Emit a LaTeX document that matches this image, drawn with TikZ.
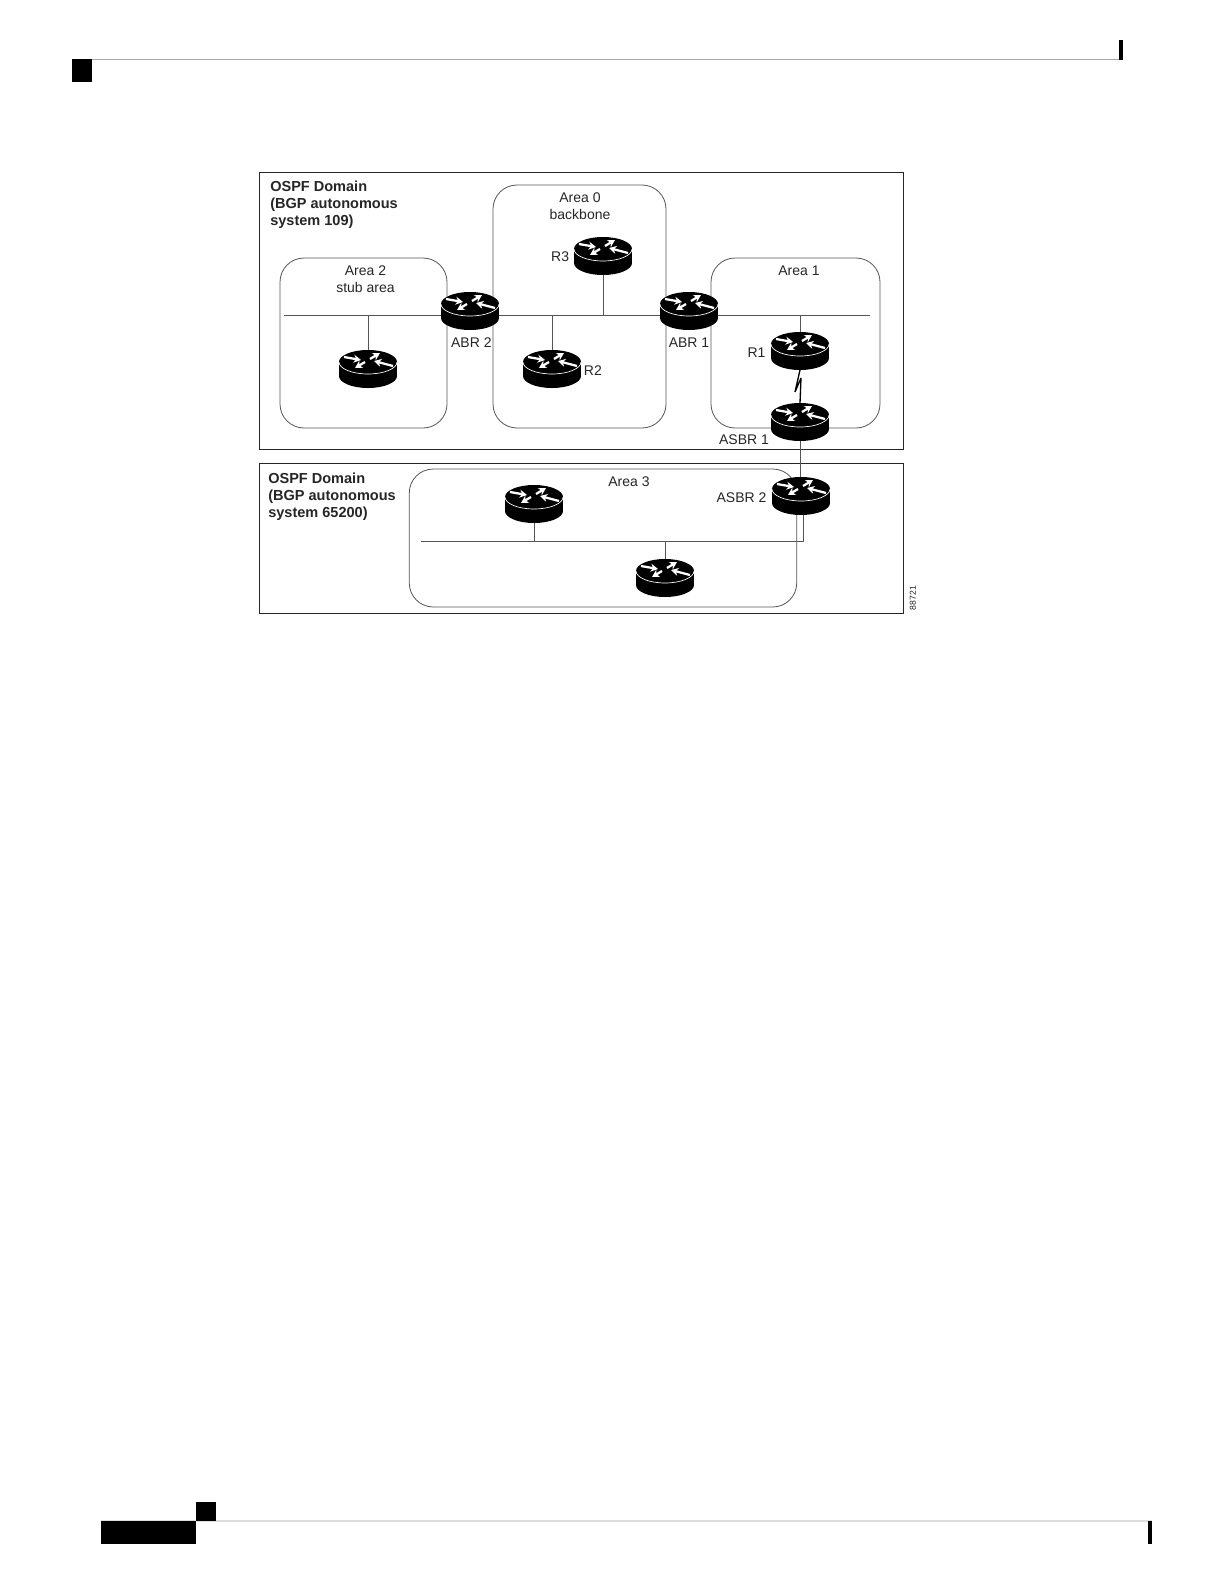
\documentclass[tikz,border=0pt]{standalone}
\usepackage{fontspec}
\setmainfont{Liberation Sans}
\usetikzlibrary{positioning,arrows.meta}
\definecolor{ruleGrey}{HTML}{A8A8A8}
\definecolor{footGrey}{HTML}{DDDDDD}
\definecolor{linkGrey}{HTML}{555555}
\newcommand{\routerbody}{%
  \begin{scope}[shift={(path picture bounding box.center)}]
    \fill[black] (0,-7) ellipse [x radius=29, y radius=12];
    \fill[black] (-29,-7) rectangle (29,7);
    \fill[black] (0,7) ellipse [x radius=29, y radius=12];
    \draw[white, line width=0.5pt] (-29,-7) arc [start angle=180, end angle=0, x radius=29, y radius=12];
    \draw[white, line width=1.7pt, -{Stealth[length=5.5pt,width=6pt]}] (-24,-12) -- (-7,-9);
    \draw[white, line width=1.7pt, -{Stealth[length=5.5pt,width=6pt]}] (25,-3) -- (6,-8);
    \draw[white, line width=1.7pt, -{Stealth[length=5.5pt,width=6pt]}] (2,-10) -- (12,-16);
    \draw[white, line width=1.7pt, -{Stealth[length=5.5pt,width=6pt]}] (-3,-7) -- (-13,-1);
  \end{scope}}
\begin{document}
\begin{tikzpicture}[
    x=0.75pt, y=-0.75pt,
    domainbox/.style={draw=black!85, line width=0.7pt, minimum width=482.6pt, inner sep=0pt},
    areabox/.style={draw=linkGrey, line width=0.6pt, rounded corners=18pt, inner sep=0pt},
    router/.style={minimum width=43.5pt, minimum height=28.5pt, inner sep=0pt, outer sep=0pt,
                   path picture={\routerbody}},
    lbl/.style={font=\fontsize{10.5}{12.75}\selectfont, inner sep=0pt, align=center, text=black!85},
    domainlbl/.style={font=\fontsize{10.9}{12.75}\selectfont\bfseries, inner sep=0pt, align=left,
                      anchor=north west, text=black!85},
    link/.style={draw=linkGrey, line width=0.6pt}
  ]
  \useasboundingbox (0,0) rectangle (1224,1584);
  % page furniture
  \draw[ruleGrey, line width=0.9pt] (92,59.5) -- (1123,59.5);
  \fill[black] (72,59) rectangle (92,82);
  \fill[black] (1119,40) rectangle (1123,60);
  \draw[footGrey, line width=0.9pt] (101,1521) -- (1152,1521);
  \fill[black] (101,1521) rectangle (196,1544);
  \fill[black] (196,1502) rectangle (216,1521);
  \fill[black] (1148,1521) rectangle (1152,1544);
  % domains and areas
  \node[domainbox, minimum height=207.9pt] (domain1) at (581.25,311) {};
  \node[domainbox, minimum height=112.5pt] (domain2) at (581.25,538) {};
  \node[areabox, minimum width=125.25pt, minimum height=127.5pt] (area2) at (363.5,343) {};
  \node[areabox, minimum width=129.75pt, minimum height=182.25pt] (area0) at (579.5,306.5) {};
  \node[areabox, minimum width=126.75pt, minimum height=127.5pt] (area1) at (795.5,343) {};
  \node[areabox, minimum width=290.6pt, minimum height=103.5pt] (area3) at (603,538) {};
  % routers
  \node[router] (stub) at (368,369) {};
  \node[router] (abr2) at (470,311) {};
  \node[router] (r2) at (552,369) {};
  \node[router] (r3) at (603,256) {};
  \node[router] (abr1) at (689,311) {};
  \node[router] (r1) at (800,351) {};
  \node[router] (asbr1) at (800,422) {};
  \node[router] (asbr2) at (801,496) {};
  \node[router] (a3left) at (534,504) {};
  \node[router] (a3right) at (665,578) {};
  % links
  \coordinate (busw) at (284,315.5);
  \coordinate (buse) at (870,315.5);
  \coordinate (lowbusw) at (421,541);
  \coordinate (lowbuse) at (803,541);
  \draw[link] (busw) -- (busw -| abr2.west);
  \draw[link] (abr2.east |- busw) -- (abr1.west |- busw);
  \draw[link] (abr1.east |- busw) -- (buse);
  \draw[link] (stub.north) -- (stub.north |- busw);
  \draw[link] (r2.north) -- (r2.north |- busw);
  \draw[link] (r3.south) -- (r3.south |- busw);
  \draw[link] (r1.north) -- (r1.north |- busw);
  \draw[black, line width=1pt, line join=bevel] (r1.south) -- ++(-5,22) -- ++(6,-14) -- (asbr1.north);
  \draw[link] (asbr1.south) -- (asbr1.south |- asbr2.north);
  \draw[link] (lowbusw) -- (lowbuse) -- (lowbuse |- asbr2.south);
  \draw[link] (a3left.south) -- (a3left.south |- lowbusw);
  \draw[link] (a3right.north) -- (a3right.north |- lowbusw);
  % labels
  \node[domainlbl] (dom1txt) at (270,181) {OSPF Domain\\(BGP autonomous\\system 109)};
  \node[domainlbl] (dom2txt) at (268,473) {OSPF Domain\\(BGP autonomous\\system 65200)};
  \node[lbl] (a2txt) at (365.5,279.5) {Area 2\\stub area};
  \node[lbl] (a0txt) at (580,206) {Area 0\\backbone};
  \node[lbl] (a1txt) at (799,271) {Area 1};
  \node[lbl] (a3txt) at (629,482) {Area 3};
  \node[lbl, left=3.5pt of r3, yshift=-0.7pt] (r3txt) {R3};
  \node[lbl, right=2pt of r2, yshift=-1.5pt] (r2txt) {R2};
  \node[lbl, left=4pt of r1, yshift=-1.5pt] (r1txt) {R1};
  \node[lbl, below=5.5pt of abr2, xshift=1pt] (abr2txt) {ABR 2};
  \node[lbl, below=5.5pt of abr1] (abr1txt) {ABR 1};
  \node[lbl] (asbr1txt) at (744,440) {ASBR 1};
  \node[lbl, left=4pt of asbr2, yshift=-1.5pt] (asbr2txt) {ASBR 2};
  \node[lbl, rotate=90, font=\fontsize{6.5}{7}\selectfont] (figid) at (913,598) {88721};
\end{tikzpicture}
\end{document}
